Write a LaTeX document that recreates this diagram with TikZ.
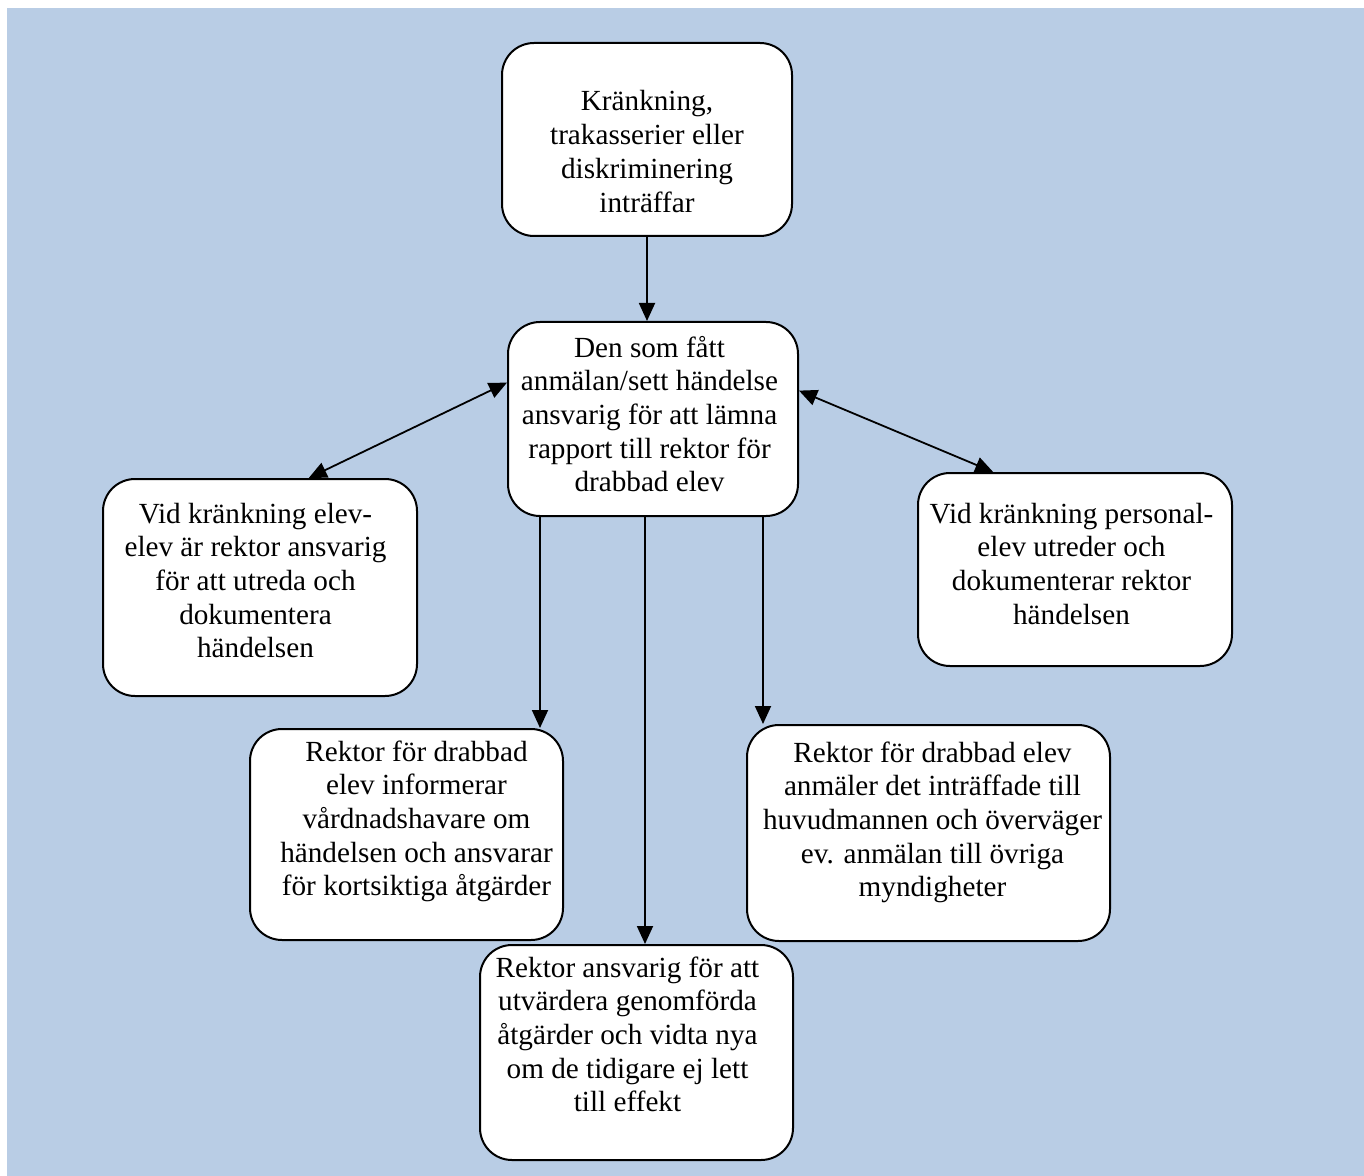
\documentclass[tikz,border=0pt]{standalone}
\usepackage{fontspec}
\setmainfont{Liberation Serif}
\usetikzlibrary{arrows.meta}

\definecolor{bakgrund}{RGB}{185,205,229}

% text of a box: width, height, top space, sideways shift, lines
\newcommand{\steg}[5]{%
  \parbox[c][#2][t]{#1}{\centering
    \leftskip=#4 plus 1fil\relax
    \rightskip=-#4 plus 1fil\relax
    \vspace*{#3}\rule{0pt}{12pt}#5}}

\tikzset{
  stegbox/.style={draw, line width=1pt, fill=white, rounded corners=16pt,
    inner sep=0pt, font=\fontsize{14.6}{16.85}\selectfont},
  pil/.style={line width=0.9pt, -{Triangle[length=9pt, width=8pt]}},
  dubbelpil/.style={line width=0.9pt,
    {Triangle[length=9pt, width=8pt]}-{Triangle[length=9pt, width=8pt]}}
}

\begin{document}
\begin{tikzpicture}[x=0.5pt, y=-0.5pt]
  \useasboundingbox (0,0) rectangle (1364,1176);
  \fill [bakgrund] (7,8) rectangle (1364,1176);

  \node [stegbox] (krank) at (647,139.5)
    {\steg{145pt}{96.5pt}{22pt}{0pt}{Kränkning,\\ trakasserier eller\\ diskriminering\\ inträffar}};
  \node [stegbox] (rapport) at (653,419)
    {\steg{145pt}{97pt}{5.5pt}{-1.75pt}{Den som fått\\ anmälan/sett händelse\\ ansvarig för att lämna\\ rapport till rektor för\\ drabbad elev}};
  \node [stegbox] (elevelev) at (260,587.5)
    {\steg{157pt}{108.5pt}{10pt}{-2.25pt}{Vid kränkning elev-\\ elev är rektor ansvarig\\ för att utreda och\\ dokumentera\\ händelsen}};
  \node [stegbox] (personal) at (1075,569.5)
    {\steg{157pt}{96.5pt}{13pt}{-1.75pt}{Vid kränkning personal-\\ elev utreder och\\ dokumenterar rektor\\ händelsen}};
  \node [stegbox] (inform) at (406.5,834.5)
    {\steg{156.5pt}{105.5pt}{4pt}{5pt}{Rektor för drabbad\\ elev informerar\\ vårdnadshavare om\\ händelsen och ansvarar\\ för kortsiktiga åtgärder}};
  \node [stegbox] (anmal) at (928.5,833)
    {\steg{181.5pt}{108pt}{6.5pt}{2pt}{Rektor för drabbad elev\\ anmäler det inträffade till\\ huvudmannen och överväger\\ ev. anmälan till övriga\\ myndigheter}};
  \node [stegbox] (utvard) at (636.5,1052.5)
    {\steg{156.5pt}{107.5pt}{4pt}{-4.5pt}{Rektor ansvarig för att\\ utvärdera genomförda\\ åtgärder och vidta nya\\ om de tidigare ej lett\\ till effekt}};

  \draw [pil] (krank.south) -- (krank.south |- rapport.north);
  \draw [dubbelpil] (elevelev.66) -- (rapport.166);
  \draw [dubbelpil] (rapport.11) -- (personal.130);
  \draw [pil] ([xshift=-56.5pt]rapport.south) -- ([xshift=-56.5pt]rapport.south |- inform.north);
  \draw [pil] ([xshift=-4pt]rapport.south) -- ([xshift=-4pt]rapport.south |- utvard.north);
  \draw [pil] ([xshift=55pt]rapport.south) -- ([xshift=55pt]rapport.south |- anmal.north);
\end{tikzpicture}
\end{document}
